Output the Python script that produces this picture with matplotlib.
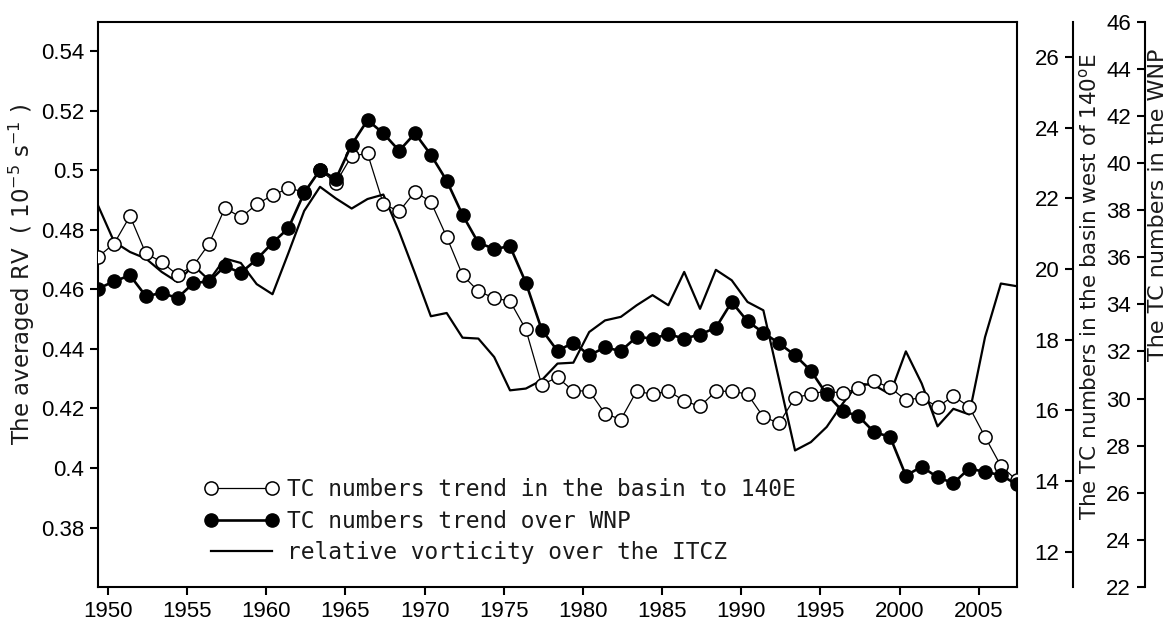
import matplotlib
matplotlib.use('Agg')
import matplotlib.pyplot as plt
from matplotlib.lines import Line2D

# ---------------- data ----------------
years = list(range(1949, 2008))

rv_itcz = [0.488, 0.476, 0.4726, 0.4704, 0.4659, 0.4625, 0.4681, 0.4631, 0.4704, 0.4689,
           0.4618, 0.4584, 0.4722, 0.4864, 0.4945, 0.4906, 0.4872, 0.4904, 0.4919, 0.4794,
           0.4654, 0.4510, 0.4521, 0.4438, 0.4435, 0.4373, 0.4261, 0.4267, 0.4295, 0.4351,
           0.4354, 0.4457, 0.4496, 0.4508, 0.4547, 0.4581, 0.4547, 0.4659, 0.4535, 0.4666,
           0.4631, 0.4558, 0.4530, 0.4295, 0.4059, 0.4087, 0.4138, 0.4216, 0.4284, 0.4278,
           0.4248, 0.4392, 0.4284, 0.4140, 0.4199, 0.4180, 0.4440, 0.4620, 0.4611]

tc_140e = [20.35, 20.72, 21.50, 20.44, 20.20, 19.83, 20.09, 20.72, 21.73, 21.46,
           21.83, 22.09, 22.28, 22.19, 22.80, 22.44, 23.20, 23.27, 21.84, 21.63,
           22.19, 21.90, 20.91, 19.83, 19.37, 19.18, 19.09, 18.29, 16.73, 16.93,
           16.55, 16.55, 15.91, 15.74, 16.55, 16.45, 16.55, 16.27, 16.11, 16.54,
           16.54, 16.46, 15.81, 15.64, 16.36, 16.46, 16.55, 16.48, 16.63, 16.82,
           16.65, 16.29, 16.36, 16.10, 16.40, 16.10, 15.25, 14.43, 14.02]

tc_wnp = [34.67, 34.98, 35.23, 34.35, 34.48, 34.27, 34.90, 34.98, 35.62, 35.34,
          35.91, 36.61, 37.23, 38.73, 39.71, 39.32, 40.78, 41.82, 41.26, 40.52,
          41.26, 40.35, 39.25, 37.80, 36.61, 36.36, 36.46, 34.92, 32.93, 32.02,
          32.38, 31.84, 32.17, 32.02, 32.62, 32.55, 32.73, 32.55, 32.72, 33.01,
          34.10, 33.28, 32.80, 32.34, 31.84, 31.18, 30.18, 29.47, 29.26, 28.57,
          28.38, 26.73, 27.11, 26.66, 26.41, 27.03, 26.89, 26.75, 26.36]

x_ticks = [1950, 1955, 1960, 1965, 1970, 1975, 1980, 1985, 1990, 1995, 2000, 2005]
rv_ticks = [0.38, 0.40, 0.42, 0.44, 0.46, 0.48, 0.50, 0.52, 0.54]
rv_tick_labels = ['0.38', '0.4', '0.42', '0.44', '0.46', '0.48', '0.5', '0.52', '0.54']
tc140_ticks = [12, 14, 16, 18, 20, 22, 24, 26]
wnp_ticks = [22, 24, 26, 28, 30, 32, 34, 36, 38, 40, 42, 44, 46]

labels = ['TC numbers trend in the basin to 140E',
          'TC numbers trend over WNP',
          'relative vorticity over the ITCZ']

# ---------------- style ----------------
plt.rcParams['font.family'] = ['Liberation Sans', 'DejaVu Sans']
TICK_FS = 16
LABEL_FONT = {'family': 'DejaVu Sans', 'size': 15.5, 'color': '#1a1a1a'}
MS = 9.5
x_shift = 0.4

fig = plt.figure(figsize=(11.72, 6.21), dpi=100)
ax = fig.add_axes([0.0839, 0.0547, 0.7836, 0.9104])

xs = [y + x_shift for y in years]

# relative vorticity (left axis)
ax.plot(xs, rv_itcz, color='black', lw=1.6, zorder=2)
ax.set_xlim(1949.4, 2007.4)
ax.set_ylim(0.36, 0.55)
ax.set_xticks(x_ticks)
ax.set_yticks(rv_ticks)
ax.set_yticklabels(rv_tick_labels)
ax.tick_params(axis='both', direction='out', length=6, width=1.5,
               labelsize=TICK_FS, pad=4)
for s in ax.spines.values():
    s.set_linewidth(1.5)
ax.set_ylabel('The averaged RV  ( 10$^{-5}$ s$^{-1}$ )', family='DejaVu Sans',
              size=16.5, color='#1a1a1a')
ax.yaxis.set_label_coords(-0.083, 0.552)
ax.yaxis.label.set(va='center', ha='center')

# TC numbers west of 140E (middle axis)
ax2 = ax.twinx()
ax2.plot(xs, tc_140e, color='black', lw=0.9, marker='o', ms=MS,
         mfc='white', mec='black', mew=1.1, zorder=3)
ax2.set_ylim(11, 27)
ax2.set_yticks(tc140_ticks)
for k in ['top', 'bottom', 'right']:
    ax2.spines[k].set_visible(False)
ax2.spines['left'].set_visible(True)
ax2.spines['left'].set_position(('axes', 1.0616))
ax2.spines['left'].set_linewidth(1.5)
ax2.yaxis.tick_left()
ax2.tick_params(axis='y', direction='out', length=6, width=1.5,
                labelsize=TICK_FS, pad=4)
ax2.set_ylabel('The TC numbers in the basin west of 140$^{\\rm o}$E', **LABEL_FONT)
ax2.yaxis.set_label_coords(1.0787, 0.531)
ax2.yaxis.label.set(va='center', ha='center')

# TC numbers over WNP (far right axis)
ax3 = ax.twinx()
ax3.plot(xs, tc_wnp, color='black', lw=1.9, marker='o', ms=MS,
         mfc='black', mec='black', zorder=4)
ax3.set_ylim(22, 46)
ax3.set_yticks(wnp_ticks)
for k in ['top', 'bottom', 'right']:
    ax3.spines[k].set_visible(False)
ax3.spines['left'].set_visible(True)
ax3.spines['left'].set_position(('axes', 1.1397))
ax3.spines['left'].set_linewidth(1.5)
ax3.yaxis.tick_left()
ax3.tick_params(axis='y', direction='out', length=6, width=1.5,
                labelsize=TICK_FS, pad=4)
ax3.set_ylabel('The TC numbers in the WNP', family='DejaVu Sans', size=16,
               color='#1a1a1a')
ax3.yaxis.set_label_coords(1.1535, 0.676)
ax3.yaxis.label.set(va='center', ha='center')

# legend
handles = [
    Line2D([], [], color='black', lw=0.9, marker='o', ms=MS, mfc='white', mec='black', mew=1.1),
    Line2D([], [], color='black', lw=1.9, marker='o', ms=MS, mfc='black', mec='black'),
    Line2D([], [], color='black', lw=1.6),
]
leg = ax3.legend(handles, labels, loc='upper left', bbox_to_anchor=(0.1149, 0.193),
                 frameon=False, numpoints=2, handlelength=3.27, handletextpad=0.35,
                 labelspacing=0.38, borderpad=0, borderaxespad=0,
                 prop={'family': 'DejaVu Sans Mono', 'size': 16.5})
for t in leg.get_texts():
    t.set_color('#1a1a1a')

fig.savefig('out.png', dpi=100)
